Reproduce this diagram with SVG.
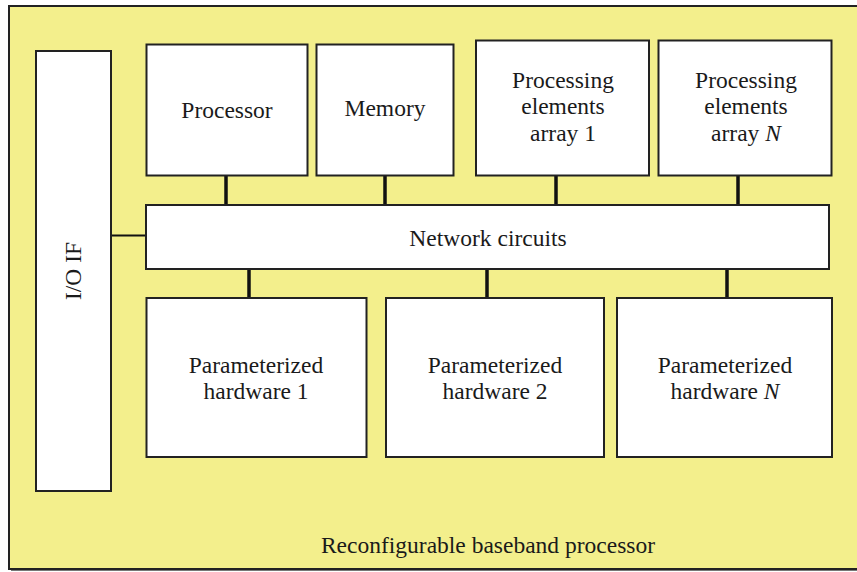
<svg xmlns="http://www.w3.org/2000/svg" width="857" height="572" viewBox="0 0 857 572">
<style>
.bg{fill:#f3ef8c;stroke:#222;stroke-width:2}
.box{fill:#fff;stroke:#222;stroke-width:2}
.t{font-family:"Liberation Serif","Times New Roman","DejaVu Serif",serif;font-size:23.5px;fill:#1a1a1a;text-anchor:middle}
.bus{stroke:#111;stroke-width:3.5;fill:none}
.thin{stroke:#111;stroke-width:2;fill:none}
</style>
<rect width="857" height="572" fill="#fff"/>
<rect x="11" y="8" width="850" height="563" fill="#777"/>
<g id="outer">
<rect class="bg" x="9" y="6" width="852" height="563"/>
<text class="t" x="488" y="553">Reconfigurable baseband processor</text>
</g>
<g id="connectors">
<line class="bus" x1="226" y1="175" x2="226" y2="205"/>
<line class="bus" x1="385" y1="175" x2="385" y2="205"/>
<line class="bus" x1="556" y1="175" x2="556" y2="205"/>
<line class="bus" x1="738" y1="175" x2="738" y2="205"/>
<line class="bus" x1="249" y1="269" x2="249" y2="298"/>
<line class="bus" x1="487" y1="269" x2="487" y2="298"/>
<line class="bus" x1="727" y1="269" x2="727" y2="298"/>
<line class="thin" x1="111" y1="235.5" x2="146" y2="235.5"/>
</g>
<g id="io">
<rect class="box" x="36" y="51" width="75" height="440"/>
<text class="t" transform="translate(81 271) rotate(-90)">I/O IF</text>
</g>
<g id="processor">
<rect class="box" x="146.5" y="44.5" width="161" height="131"/>
<text class="t" x="227" y="118">Processor</text>
</g>
<g id="memory">
<rect class="box" x="316.5" y="44.5" width="137" height="131"/>
<text class="t" x="385" y="116">Memory</text>
</g>
<g id="pe1">
<rect class="box" x="476" y="40.5" width="173" height="135"/>
<text class="t" x="563" y="88">Processing</text>
<text class="t" x="563" y="114">elements</text>
<text class="t" x="563" y="141">array 1</text>
</g>
<g id="peN">
<rect class="box" x="658.5" y="40.5" width="173" height="135"/>
<text class="t" x="746" y="88">Processing</text>
<text class="t" x="746" y="114">elements</text>
<text class="t" x="746" y="141">array <tspan font-style="italic">N</tspan></text>
</g>
<g id="network">
<rect class="box" x="146" y="205" width="683" height="64"/>
<text class="t" x="488" y="246">Network circuits</text>
</g>
<g id="ph1">
<rect class="box" x="146.5" y="298" width="220" height="159"/>
<text class="t" x="256" y="373">Parameterized</text>
<text class="t" x="256" y="399">hardware 1</text>
</g>
<g id="ph2">
<rect class="box" x="386" y="298" width="218" height="159"/>
<text class="t" x="495" y="373">Parameterized</text>
<text class="t" x="495" y="399">hardware 2</text>
</g>
<g id="phN">
<rect class="box" x="617" y="298" width="215" height="159"/>
<text class="t" x="725" y="373">Parameterized</text>
<text class="t" x="725" y="399">hardware <tspan font-style="italic">N</tspan></text>
</g>
</svg>
